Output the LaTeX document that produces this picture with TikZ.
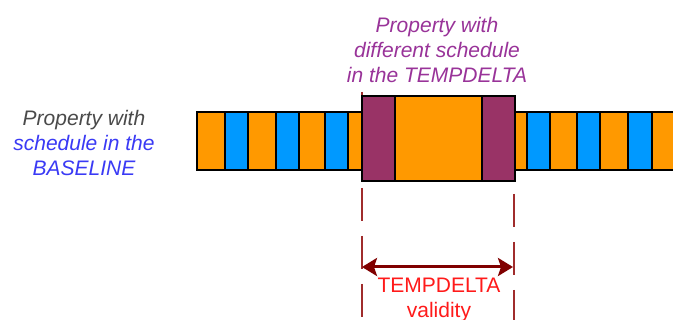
\documentclass[tikz,border=0pt]{standalone}
\usepackage{fontspec}
\setmainfont{Liberation Sans}
\usetikzlibrary{arrows.meta}
\definecolor{segorange}{HTML}{FF9900}
\definecolor{segblue}{HTML}{0099FF}
\definecolor{deltapurple}{HTML}{993366}
\definecolor{textpurple}{HTML}{993399}
\definecolor{textblue}{HTML}{3A3AF5}
\definecolor{textgray}{HTML}{4A4A4A}
\definecolor{validred}{HTML}{800000}
\definecolor{dashred}{HTML}{A02C2C}
\definecolor{textred}{HTML}{FF1A1A}
\tikzset{
  seg/.style={draw=black,line width=1.3pt},
  label/.style={font=\fontsize{21}{25}\selectfont,align=center,inner sep=0pt},
  limit/.style={dashred,line width=1.6pt,dash pattern=on 33pt off 15pt}
}
\begin{document}
\begin{tikzpicture}[x=1pt,y=-1pt]
  \useasboundingbox[fill=white] (0,0) rectangle (673,320);
  % baseline schedule, left and right of the delta
  \foreach \xa/\xb/\col in {197/225/segorange,225/248/segblue,248/276/segorange,
      276/299/segblue,299/325/segorange,325/348/segblue,348/362/segorange,
      515/527/segorange,527/550/segblue,550/577/segorange,577/600/segblue,
      600/628/segorange,628/652/segblue,652/680/segorange} {
    \filldraw[seg,fill=\col] (\xa,112) rectangle (\xb,170);
  }
  % validity limits
  \coordinate (lefttop) at (362,85);
  \coordinate (leftbot) at (362,320);
  \coordinate (righttop) at (514,194);
  \coordinate (rightbot) at (514,320);
  \draw[limit,dash phase=41pt] (lefttop) -- (leftbot);
  \draw[limit] (righttop) -- (rightbot);
  % tempdelta block
  \filldraw[seg,fill=deltapurple] (362,96) rectangle (395,181);
  \filldraw[seg,fill=segorange] (395,96) rectangle (482,181);
  \filldraw[seg,fill=deltapurple] (482,96) rectangle (515,181);
  % validity arrow
  \coordinate (validl) at (362,267);
  \coordinate (validr) at (513,267);
  \draw[validred,line width=3pt,{Stealth[length=15pt,width=18pt,inset=3pt]}-{Stealth[length=15pt,width=18pt,inset=3pt]}]
    (validl) -- (validr);
  % texts
  \node[label,font=\fontsize{21}{25}\selectfont\itshape] (basetxt) at (84,143)
    {\textcolor{textgray}{Property with}\\\textcolor{textblue}{schedule in the}\\\textcolor{textblue}{BASELINE}};
  \node[label,font=\fontsize{21}{25}\selectfont\itshape,textpurple] (deltatxt) at (437,50)
    {Property with\\different schedule\\in the TEMPDELTA};
  \node[label,textred] (validtxt) at (439,300) {TEMPDELTA\\validity};
\end{tikzpicture}
\end{document}
